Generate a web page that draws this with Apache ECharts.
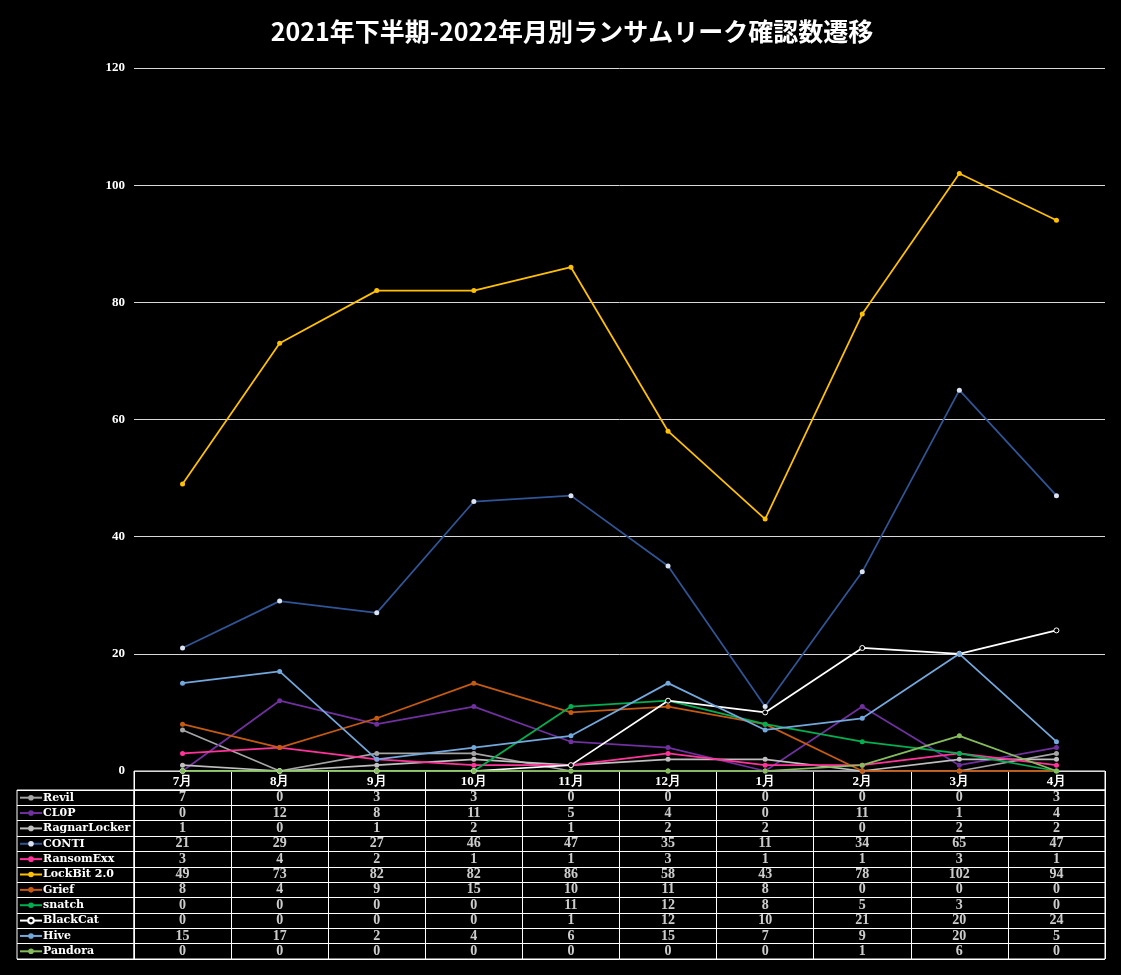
<!DOCTYPE html>
<html>
<head>
<meta charset="utf-8">
<script src="https://cdn.jsdelivr.net/npm/echarts@6/dist/echarts.min.js"></script>
<style>
  html, body { margin: 0; padding: 0; background: #000; }
  #chart { width: 1121px; height: 975px; }
</style>
</head>
<body>
<div id="chart"></div>
<script>
// 月別データ
var months = ['7月', '8月', '9月', '10月', '11月', '12月', '1月', '2月', '3月', '4月'];
var yTicks = [0, 20, 40, 60, 80, 100, 120];

var revil        = [7, 0, 3, 3, 0, 0, 0, 0, 0, 3];
var clop         = [0, 12, 8, 11, 5, 4, 0, 11, 1, 4];
var ragnarLocker = [1, 0, 1, 2, 1, 2, 2, 0, 2, 2];
var conti        = [21, 29, 27, 46, 47, 35, 11, 34, 65, 47];
var ransomExx    = [3, 4, 2, 1, 1, 3, 1, 1, 3, 1];
var lockbit      = [49, 73, 82, 82, 86, 58, 43, 78, 102, 94];
var grief        = [8, 4, 9, 15, 10, 11, 8, 0, 0, 0];
var snatch       = [0, 0, 0, 0, 11, 12, 8, 5, 3, 0];
var blackCat     = [0, 0, 0, 0, 1, 12, 10, 21, 20, 24];
var hive         = [15, 17, 2, 4, 6, 15, 7, 9, 20, 5];
var pandora      = [0, 0, 0, 0, 0, 0, 0, 1, 6, 0];

var names = ['Revil', 'CL0P', 'RagnarLocker', 'CONTI', 'RansomExx', 'LockBit 2.0', 'Grief', 'snatch', 'BlackCat', 'Hive', 'Pandora'];
var values = [revil, clop, ragnarLocker, conti, ransomExx, lockbit, grief, snatch, blackCat, hive, pandora];
var lineColors = ['#a5a5a5', '#7030a0', '#bfbfbf', '#2f5597', '#ff3399', '#ffc000', '#c55a11', '#00b050', '#ffffff', '#72a8dc', '#86bd5c'];
var markColors = ['#a5a5a5', '#7030a0', '#bfbfbf', '#dae3f3', '#ff3399', '#ffc000', '#c55a11', '#00b050', '#000000', '#72a8dc', '#86bd5c'];

var serif = "'Liberation Serif', 'DejaVu Serif', serif";
var rowH = 169 / names.length;

var myChart = echarts.init(document.getElementById('chart'));

// 折れ線
var series = names.map(function (n, i) {
    return {
        name: n,
        type: 'line',
        xAxisIndex: 0,
        yAxisIndex: 0,
        data: values[i],
        symbol: 'circle',
        symbolSize: 5,
        lineStyle: { color: lineColors[i], width: 1.75 },
        itemStyle: {
            color: markColors[i],
            borderColor: i === 8 ? '#ffffff' : markColors[i],
            borderWidth: i === 8 ? 1 : 0
        },
        emphasis: { disabled: true },
        animation: false
    };
});

// データテーブルの数値
var cells = [];
names.forEach(function (n, i) {
    values[i].forEach(function (v, m) {
        cells.push([m, i, v]);
    });
});
series.push({
    name: 'table',
    type: 'scatter',
    xAxisIndex: 2,
    yAxisIndex: 2,
    data: cells,
    symbol: 'rect',
    symbolSize: 1,
    itemStyle: { color: '#000' },
    label: {
        show: true,
        position: 'inside',
        formatter: function (p) { return p.value[2]; },
        color: '#fff',
        fontFamily: serif,
        fontWeight: 'bold',
        fontSize: 14
    },
    silent: true,
    animation: false
});

myChart.setOption({
    backgroundColor: '#000',
    title: {
        text: '2021年下半期-2022年月別ランサムリーク確認数遷移',
        left: 567,
        top: 14,
        textAlign: 'center',
        textStyle: {
            color: '#fff',
            fontFamily: "'Noto Sans CJK JP', sans-serif",
            fontWeight: 'bold',
            fontSize: 25
        }
    },
    legend: {
        data: names,
        orient: 'vertical',
        left: 19,
        top: 790,
        padding: 0,
        itemGap: 0,
        itemWidth: 22,
        itemHeight: 7,
        selectedMode: false,
        lineStyle: { width: 2 },
        textStyle: {
            color: '#fff',
            fontFamily: "'DejaVu Serif', serif",
            fontWeight: 'bold',
            fontSize: 11,
            lineHeight: rowH,
            height: rowH,
            padding: [0, 0, 0, -4]
        }
    },
    grid: [
        // 折れ線
        { left: 134, right: 16, top: 68, bottom: 204 },
        // 見出し行
        { left: 134, right: 16, top: 771, height: 19, show: true, borderColor: '#fff', borderWidth: 1 },
        // 数値
        { left: 134, right: 16, top: 790, height: 169, show: true, borderColor: '#fff', borderWidth: 1 },
        // 凡例列
        { left: 17, width: 117, top: 790, height: 169, show: true, borderColor: '#fff', borderWidth: 1 }
    ],
    xAxis: [
        {
            gridIndex: 0,
            type: 'category',
            data: months,
            axisLine: { show: false },
            axisTick: { show: false },
            axisLabel: {
                color: '#fff',
                fontFamily: serif,
                fontWeight: 'bold',
                fontSize: 13,
                margin: 4
            }
        },
        {
            gridIndex: 1,
            type: 'category',
            data: months,
            axisLine: { show: false },
            axisTick: { show: false },
            axisLabel: { show: false },
            splitLine: { show: true, interval: 0, lineStyle: { color: '#fff', width: 1 } }
        },
        {
            gridIndex: 2,
            type: 'category',
            data: months,
            axisLine: { show: false },
            axisTick: { show: false },
            axisLabel: { show: false },
            splitLine: { show: true, interval: 0, lineStyle: { color: '#fff', width: 1 } }
        },
        { gridIndex: 3, type: 'value', show: false }
    ],
    yAxis: [
        {
            gridIndex: 0,
            type: 'value',
            min: yTicks[0],
            max: yTicks[yTicks.length - 1],
            interval: 20,
            axisLine: { show: false },
            axisTick: { show: false },
            axisLabel: {
                color: '#fff',
                fontFamily: serif,
                fontWeight: 'bold',
                fontSize: 13,
                margin: 9
            },
            splitLine: { lineStyle: { color: '#d9d9d9', width: 1 } }
        },
        { gridIndex: 1, type: 'value', show: false },
        {
            gridIndex: 2,
            type: 'category',
            data: names,
            inverse: true,
            axisLine: { show: false },
            axisTick: { show: false },
            axisLabel: { show: false },
            splitLine: { show: true, interval: 0, lineStyle: { color: '#fff', width: 1 } }
        },
        {
            gridIndex: 3,
            type: 'category',
            data: names,
            inverse: true,
            axisLine: { show: false },
            axisTick: { show: false },
            axisLabel: { show: false },
            splitLine: { show: true, interval: 0, lineStyle: { color: '#fff', width: 1 } }
        }
    ],
    series: series
});
</script>
</body>
</html>
